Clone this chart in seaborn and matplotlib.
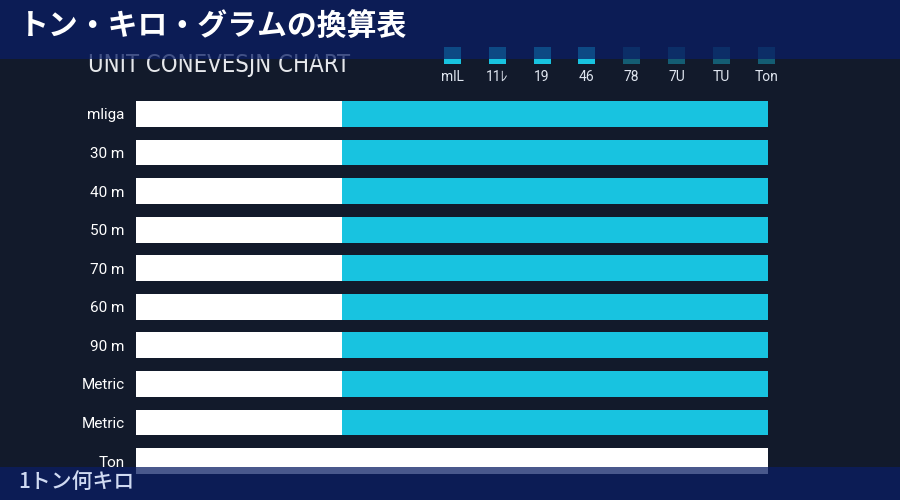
import matplotlib
matplotlib.use("Agg")
import matplotlib.pyplot as plt
from matplotlib import font_manager
from matplotlib.patches import Rectangle
import seaborn as sns
import pandas as pd

# data
row_labels = ["mliga", "30 m", "40 m", "50 m", "70 m", "60 m", "90 m", "Metric", "Metric", "Ton"]
total_value = [100, 100, 100, 100, 100, 100, 100, 100, 100, 100]
white_value = [32.7, 32.7, 32.7, 32.7, 32.7, 32.7, 32.7, 32.7, 32.7, 100]
legend_labels = ["mlL", "11ﾚ", "19", "46", "78", "7U", "TU", "Ton"]
legend_bright = [True, True, True, True, False, False, False, False]

title = "トン・キロ・グラムの換算表"
subtitle = "UNIT CONEVESJN CHART"
footer = "1トン何キロ"

BG = "#121a2b"
CYAN = "#18c3e0"
BANNER = "#0a1e64"

sns.set_theme(style="dark", rc={
    "figure.facecolor": BG,
    "axes.facecolor": BG,
    "savefig.facecolor": BG,
    "axes.edgecolor": BG,
    "ytick.color": "white",
    "xtick.color": "white",
})
plt.rcParams["font.family"] = ["Roboto", "Noto Sans CJK JP", "DejaVu Sans"]

W, H = 900, 500
fig = plt.figure(figsize=(9, 5), dpi=100)


def px(x, y):
    return x / W, 1 - y / H


ax = fig.add_axes([135.5 / W, 1 - 480.3 / H, 632.4 / W, 385.6 / H])

df = pd.DataFrame({"row": list(range(len(row_labels))),
                   "total": total_value, "white": white_value})
sns.barplot(data=df, x="total", y="row", orient="h", color=CYAN,
            saturation=1, width=0.67, linewidth=0, ax=ax)
sns.barplot(data=df, x="white", y="row", orient="h", color="white",
            saturation=1, width=0.67, linewidth=0, ax=ax)

ax.set_xlim(0, 100)
ax.set_ylim(len(row_labels) - 0.5, -0.5)
ax.set_yticks(range(len(row_labels)))
ax.set_yticklabels(row_labels, fontsize=11, color="white")
ax.tick_params(axis="y", length=0, pad=8)
ax.set_xticks([])
ax.set_xlabel("")
ax.set_ylabel("")
for s in ax.spines.values():
    s.set_visible(False)

# subtitle (sits partly under the top banner); look for a narrow face
sub_font = font_manager.FontProperties(family="Roboto", size=21)
for fam in ["Liberation Sans Narrow", "DejaVu Sans", "Roboto"]:
    fp = font_manager.FontProperties(family=fam, stretch="condensed", size=21)
    try:
        path = font_manager.findfont(fp, fallback_to_default=False)
    except Exception:
        continue
    if "Narrow" in path or "Condensed" in path:
        sub_font = fp
        break
sub = fig.text(*px(88, 65), subtitle, fontproperties=sub_font, color="#e6e8ec",
               va="center", ha="left", zorder=3)
# squeeze the size so the line spans the same width as in the reference
fig.canvas.draw()
w = sub.get_window_extent().width
if w > 268:
    sub.set_fontsize(21 * 262 / w)

# legend-like strip of swatches
for i, (lab, bright) in enumerate(zip(legend_labels, legend_bright)):
    cx = 452.5 + i * 44.8
    x0, y0 = px(cx - 8.5, 63.5)
    fig.add_artist(Rectangle((x0, y0), 17 / W, 16 / H, transform=fig.transFigure,
                             facecolor=CYAN, alpha=1.0 if bright else 0.4,
                             linewidth=0, zorder=3))
    fig.text(*px(cx, 77), lab, fontsize=10, color="#e0e6f0", ha="center", va="center",
             family=["Roboto", "Noto Sans CJK JP"], zorder=3)

# top and bottom banners
fig.add_artist(Rectangle(px(0, 58.5), 1, 58.5 / H, transform=fig.transFigure,
                         facecolor=BANNER, alpha=0.74, linewidth=0, zorder=10))
fig.add_artist(Rectangle(px(0, 500), 1, 33 / H, transform=fig.transFigure,
                         facecolor=BANNER, alpha=0.74, linewidth=0, zorder=10))

fig.text(*px(19, 26), title, fontsize=21.5, fontweight="bold", color="white",
         ha="left", va="center", family=["Noto Sans CJK JP", "DejaVu Sans"], zorder=11)
fig.text(*px(18, 482), footer, fontsize=15, fontweight="medium", color="#d0daf2",
         ha="left", va="center", family=["Noto Sans CJK JP", "DejaVu Sans"], zorder=11)

fig.savefig("out.png", dpi=100)
